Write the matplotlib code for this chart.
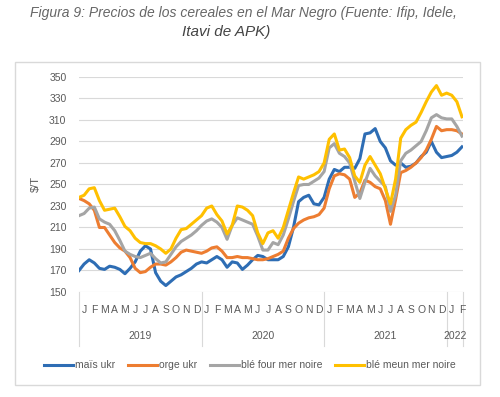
import numpy as np
import matplotlib
matplotlib.use('Agg')
import matplotlib.pyplot as plt
import matplotlib.transforms as mtransforms
from matplotlib.patches import Rectangle

# valeurs lues tous les demi-mois, janv 2019 -> mi-fév 2022
mois = np.arange(0, 38, 0.5)

mais_ukr = [170, 176, 180, 177, 172, 171, 174, 173, 171, 167, 172, 178, 188, 193, 190, 168, 160, 156, 160, 164, 166, 169, 172, 176, 178,
            177, 180, 183, 180, 173, 178, 177, 171, 175, 180, 184, 183, 180, 180, 180, 183, 192, 210, 234, 238, 240, 232, 231, 238,
            255, 264, 262, 266, 266, 265, 274, 297, 298, 302, 290, 284, 272, 268, 270, 266, 267, 270, 276, 280, 290, 280, 275, 276, 277, 280, 285]
orge_ukr = [237, 235, 232, 226, 210, 210, 203, 196, 191, 188, 182, 172, 168, 169, 173, 176, 176, 175, 178, 182, 187, 189, 188, 187, 186,
            188, 191, 192, 188, 182, 182, 183, 182, 182, 181, 180, 180, 181, 183, 185, 188, 200, 209, 214, 217, 219, 220, 222, 228,
            246, 258, 260, 259, 255, 238, 242, 254, 252, 248, 246, 235, 213, 236, 261, 263, 266, 270, 275, 282, 292, 304, 300, 301, 301, 300, 297]
ble_four = [221, 223, 228, 229, 218, 215, 213, 207, 198, 188, 185, 183, 182, 184, 186, 181, 177, 178, 185, 192, 197, 200, 203, 207, 212,
            216, 218, 215, 210, 199, 212, 219, 217, 215, 213, 202, 189, 189, 196, 194, 203, 218, 234, 249, 250, 250, 253, 256, 262,
            284, 288, 279, 276, 270, 253, 237, 252, 265, 258, 253, 248, 225, 240, 272, 279, 282, 286, 290, 300, 312, 315, 312, 311, 311, 304, 295]
ble_meun = [238, 240, 246, 247, 235, 226, 227, 228, 220, 211, 207, 200, 196, 195, 195, 193, 190, 186, 190, 200, 208, 209, 213, 217, 221,
            228, 230, 222, 216, 204, 212, 230, 229, 226, 221, 205, 195, 205, 207, 200, 210, 226, 242, 257, 255, 257, 259, 262, 270,
            292, 297, 282, 283, 275, 258, 252, 268, 276, 268, 260, 246, 232, 255, 293, 301, 305, 308, 317, 327, 336, 342, 333, 335, 333, 327, 313]

noms = ['maïs ukr', 'orge ukr', 'blé four mer noire', 'blé meun mer noire']
colores = ['#2E6DB4', '#ED7D31', '#A5A5A5', '#FFC000']
lettres = ['J', 'F', 'M', 'A', 'M', 'J', 'J', 'A', 'S', 'O', 'N', 'D']
annees = ['2019', '2020', '2021', '2022']

plt.rcParams['font.family'] = ['Liberation Sans Narrow', 'Liberation Sans', 'DejaVu Sans']
gris = '#595959'

fig = plt.figure(figsize=(5, 3.97), dpi=100)
fig.patches.append(Rectangle((0.03, 0.03), 0.93, 0.814, transform=fig.transFigure,
                             fill=False, edgecolor='#d9d9d9', lw=1))
fig.text(0.486, 0.966, 'Figura 9: Precios de los cereales en el Mar Negro (Fuente: Ifip, Idele,',
         ha='center', va='center', style='italic', fontsize=10, color='#666666', family='Liberation Sans')
fig.text(0.452, 0.92, 'Itavi de APK)', ha='center', va='center', style='italic', fontsize=11,
         color='#444444', family='Liberation Sans')

ax = fig.add_axes([0.158, 0.2645, 0.768, 0.5416])
for serie, nom, c in zip([mais_ukr, orge_ukr, ble_four, ble_meun], noms, colores):
    ax.plot(mois, serie, color=c, lw=2.2, label=nom, solid_joinstyle='round')

ax.set_xlim(0, 37.6)
ax.set_ylim(150, 350)
ax.set_yticks(range(150, 351, 20))
ax.grid(axis='y', color='#d9d9d9', lw=0.8)
ax.set_axisbelow(True)
for s in ax.spines.values():
    s.set_visible(False)
ax.tick_params(axis='y', length=0, labelsize=7.5, labelcolor=gris, pad=9)
ax.set_xticks([])
ax.set_ylabel('$/T', fontsize=8, color=gris, labelpad=6)

# axe des catégories à deux niveaux (mois / année)
trans = mtransforms.blended_transform_factory(ax.transData, ax.transAxes)
for i in range(38):
    ax.text(i + 0.5, -0.085, lettres[i % 12], transform=trans, ha='center', va='center',
            fontsize=7.5, color=gris)
for k, a in enumerate(annees):
    debut = 12 * k
    fin = min(12 * (k + 1), 37.6)
    ax.text((debut + fin) / 2, -0.205, a, transform=trans, ha='center', va='center',
            fontsize=7.5, color=gris)
for xs in [0, 12, 24, 36, 37.6]:
    ax.plot([xs, xs], [0, -0.25], transform=trans, color='#d9d9d9', lw=0.8, clip_on=False)

fig.legend(loc='center', bbox_to_anchor=(0.5, 0.08), ncol=4, frameon=False, fontsize=7.5,
           handlelength=2.8, handletextpad=0.2, columnspacing=1.2, labelcolor=gris)

plt.savefig('out.png', dpi=100)
